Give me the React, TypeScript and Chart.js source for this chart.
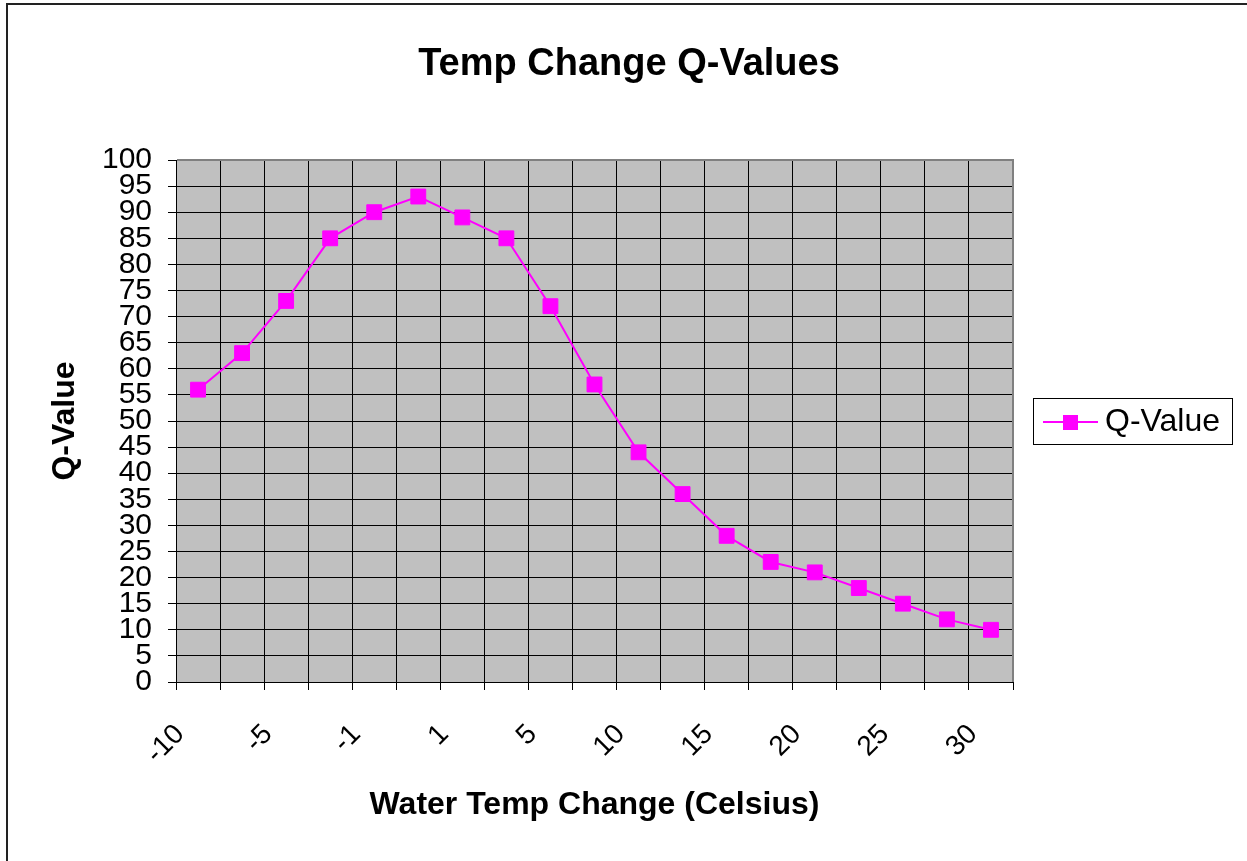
import React, { useEffect, useRef } from "react";
import { Chart, registerables } from "chart.js";

Chart.register(...registerables);

const categories = ["-10", "-7.5", "-5", "-3", "-1", "0", "1", "3", "5", "7.5", "10", "12.5", "15", "17.5", "20", "22.5", "25", "27.5", "30"];
const qValues = [56, 63, 73, 85, 90, 93, 89, 85, 72, 57, 44, 36, 28, 23, 21, 18, 15, 12, 10];
const seriesName = "Q-Value";
const chartTitle = "Temp Change Q-Values";
const xTitle = "Water Temp Change (Celsius)";
const yTitle = "Q-Value";
const yMin = 0;
const yMax = 100;
const yStep = 5;

const FONT = "'Liberation Sans', Arial, sans-serif";
const MAGENTA = "#FF00FF";

const decorPlugin = {
  id: "decor",
  beforeDraw(chart: any) {
    const { ctx, chartArea } = chart;
    const { left, top, right, bottom } = chartArea;
    ctx.save();
    ctx.fillStyle = "#C0C0C0";
    ctx.fillRect(left, top, right - left, bottom - top);
    ctx.restore();
  },
  beforeDatasetsDraw(chart: any) {
    const { ctx, chartArea } = chart;
    const { left, top, right, bottom } = chartArea;
    ctx.save();
    ctx.strokeStyle = "#808080";
    ctx.lineWidth = 2;
    ctx.beginPath();
    ctx.moveTo(left + 1, top);
    ctx.lineTo(right, top);
    ctx.lineTo(right, bottom);
    ctx.stroke();
    ctx.restore();
  },
  afterDraw(chart: any) {
    const { ctx } = chart;
    ctx.save();
    // title
    ctx.fillStyle = "#000";
    ctx.font = `bold 38px ${FONT}`;
    ctx.textAlign = "center";
    ctx.textBaseline = "middle";
    ctx.fillText(chartTitle, 629, 65);
    // legend
    ctx.fillStyle = "#fff";
    ctx.fillRect(1033.5, 398.5, 199, 46);
    ctx.strokeStyle = "#000";
    ctx.lineWidth = 1;
    ctx.strokeRect(1033.5, 398.5, 199, 46);
    ctx.strokeStyle = MAGENTA;
    ctx.lineWidth = 2;
    ctx.beginPath();
    ctx.moveTo(1043, 422);
    ctx.lineTo(1098, 422);
    ctx.stroke();
    ctx.fillStyle = MAGENTA;
    ctx.fillRect(1063, 415, 15, 15);
    ctx.fillStyle = "#000";
    ctx.font = `32px ${FONT}`;
    ctx.textAlign = "left";
    ctx.textBaseline = "middle";
    ctx.fillText(seriesName, 1105, 422);
    ctx.restore();
  },
};

export default function App() {
  const canvasRef = useRef<HTMLCanvasElement | null>(null);

  useEffect(() => {
    const canvas = canvasRef.current;
    if (!canvas) return;
    const chart = new Chart(canvas, {
      type: "line",
      data: {
        labels: categories,
        datasets: [
          {
            label: seriesName,
            data: qValues,
            borderColor: MAGENTA,
            backgroundColor: MAGENTA,
            borderWidth: 2,
            tension: 0,
            pointStyle: "rect",
            pointRadius: 10.5,
            pointBackgroundColor: MAGENTA,
            pointBorderColor: MAGENTA,
            pointBorderWidth: 1,
          },
        ],
      },
      options: {
        responsive: false,
        animation: false,
        devicePixelRatio: 1,
        layout: { padding: { left: 42, top: 160, right: 234, bottom: 33 } },
        plugins: {
          legend: { display: false },
          title: { display: false },
          tooltip: { enabled: false },
        },
        scales: {
          x: {
            type: "category",
            offset: true,
            grid: { offset: true, color: "#000", lineWidth: 1, tickLength: 8, tickColor: "#000", drawTicks: true },
            border: { color: "#000", width: 1 },
            ticks: {
              autoSkip: false,
              minRotation: 45,
              maxRotation: 45,
              color: "#000",
              font: { family: FONT, size: 28 },
              padding: 28,
              labelOffset: -18,
              callback: (_v: any, i: number) => (i % 2 === 0 ? categories[i] : ""),
            },
            title: { display: true, text: xTitle, color: "#000", font: { family: FONT, size: 32, weight: "bold" } },
            afterFit: (scale: any) => {
              scale.height = 146;
              scale.paddingLeft = 0;
              scale.paddingRight = 0;
            },
          },
          y: {
            min: yMin,
            max: yMax,
            grid: { color: "#000", lineWidth: 1, tickLength: 8, tickColor: "#000" },
            border: { color: "#000", width: 1 },
            ticks: {
              stepSize: yStep,
              autoSkip: false,
              color: "#000",
              font: { family: FONT, size: 30 },
              padding: 16,
            },
            title: { display: true, text: yTitle, color: "#000", font: { family: FONT, size: 32, weight: "bold" } },
            afterFit: (scale: any) => {
              scale.width = 134;
              scale.paddingTop = 0;
              scale.paddingBottom = 0;
            },
          },
        },
      },
      plugins: [decorPlugin],
    });
    return () => chart.destroy();
  }, []);

  return (
    <div style={{ position: "fixed", inset: 0, overflow: "hidden", background: "#fff" }}>
      <div
        style={{
          position: "absolute",
          left: 6,
          top: 3,
          width: 1400,
          height: 1000,
          border: "2px solid #222",
          boxSizing: "border-box",
        }}
      />
      <canvas
        ref={canvasRef}
        width={1247}
        height={861}
        style={{ position: "absolute", left: 0, top: 0, display: "block" }}
      />
    </div>
  );
}
